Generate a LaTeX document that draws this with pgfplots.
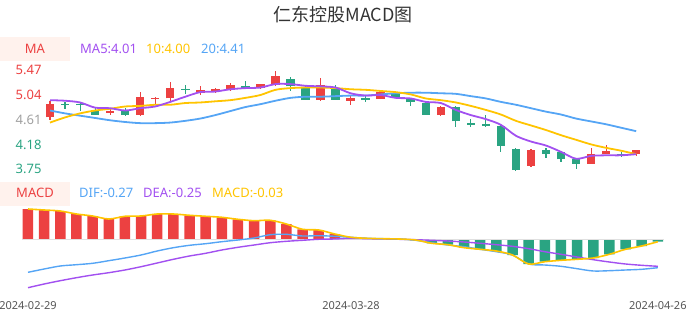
\documentclass[border=0pt]{standalone}
\usepackage{fontspec}
\setmainfont{Noto Sans}
\newfontfamily\cjk{Noto Sans CJK SC}
\usepackage{pgfplots}
\usepackage{pgfplotstable}
\pgfplotsset{compat=1.18}
\definecolor{cred}{RGB}{236,65,65}
\definecolor{cgreen}{RGB}{42,164,130}
\definecolor{cpurple}{RGB}{162,80,240}
\definecolor{cyellow}{RGB}{255,196,0}
\definecolor{cblue}{RGB}{85,165,245}
\definecolor{cgray}{RGB}{160,160,160}
\definecolor{cbox}{RGB}{255,242,237}
\definecolor{ctitle}{RGB}{51,51,51}
\definecolor{cdate}{RGB}{85,85,85}

\pgfplotstableread{
i o h l c
0 4.65 4.94 4.61 4.88
4 4.73 4.79 4.70 4.77
6 4.70 5.09 4.69 5.01
7 4.97 5.00 4.88 4.99
8 4.98 5.26 4.94 5.16
10 5.07 5.20 5.04 5.13
11 5.09 5.17 5.07 5.14
12 5.13 5.25 5.11 5.21
14 5.17 5.24 5.16 5.23
15 5.21 5.46 5.19 5.37
18 4.95 5.34 4.94 5.21
20 4.94 5.02 4.87 4.98
22 4.97 5.11 4.97 5.09
26 4.69 4.84 4.68 4.83
32 3.81 4.10 3.80 4.08
36 3.84 4.12 3.84 4.02
37 4.01 4.17 4.01 4.06
39 4.01 4.09 3.98 4.08
}\upc

\pgfplotstableread{
i o h l c
1 4.89 4.92 4.79 4.87
2 4.88 4.92 4.77 4.86
3 4.78 4.81 4.69 4.70
5 4.77 4.81 4.67 4.69
9 5.15 5.21 5.05 5.13
13 5.19 5.28 5.14 5.17
16 5.31 5.35 5.11 5.19
17 5.16 5.19 4.95 4.95
19 5.16 5.21 4.96 4.96
21 4.99 5.04 4.91 4.95
23 5.08 5.10 5.01 5.01
24 4.97 4.98 4.85 4.91
25 4.90 4.92 4.70 4.70
27 4.83 4.84 4.49 4.58
28 4.55 4.62 4.48 4.52
29 4.53 4.69 4.49 4.50
30 4.50 4.52 4.05 4.16
31 4.10 4.11 3.72 3.73
33 4.08 4.12 3.94 4.01
34 4.04 4.05 3.88 3.92
35 3.93 3.95 3.76 3.84
38 4.01 4.04 3.96 3.98
}\downc

\pgfplotstableread{
i ma5 ma10 ma20
0 4.95 4.56 4.77
1 4.94 4.65 4.72
2 4.91 4.72 4.68
3 4.82 4.77 4.64
4 4.81 4.80 4.60
5 4.77 4.84 4.57
6 4.81 4.85 4.55
7 4.84 4.87 4.55
8 4.92 4.87 4.56
9 5.01 4.90 4.59
10 5.09 4.91 4.63
11 5.10 4.93 4.69
12 5.14 4.95 4.76
13 5.16 4.99 4.83
14 5.17 5.04 4.88
15 5.23 5.13 4.94
16 5.23 5.16 4.99
17 5.20 5.17 5.01
18 5.19 5.17 5.01
19 5.17 5.16 5.02
20 5.07 5.14 5.03
21 5.03 5.13 5.03
22 5.04 5.11 5.05
23 4.99 5.09 5.07
24 4.98 5.05 5.08
25 4.92 4.98 5.08
26 4.90 4.95 5.07
27 4.78 4.91 5.06
28 4.69 4.85 5.02
29 4.62 4.78 4.98
30 4.52 4.70 4.92
31 4.33 4.59 4.87
32 4.23 4.51 4.81
33 4.16 4.43 4.75
34 4.05 4.34 4.70
35 3.93 4.26 4.63
36 3.98 4.18 4.58
37 3.99 4.12 4.53
38 3.99 4.07 4.47
39 4.01 4.01 4.41
}\ma

\pgfplotstableread{
i dif dea macd
0 -0.333 -0.487 0.300
1 -0.300 -0.450 0.290
2 -0.270 -0.417 0.280
3 -0.257 -0.387 0.250
4 -0.243 -0.360 0.230
5 -0.217 -0.337 0.200
6 -0.190 -0.310 0.227
7 -0.160 -0.277 0.230
8 -0.120 -0.240 0.250
9 -0.087 -0.203 0.250
10 -0.063 -0.170 0.237
11 -0.047 -0.143 0.227
12 -0.027 -0.110 0.217
13 -0.010 -0.083 0.197
14 0.010 -0.060 0.183
15 0.043 -0.037 0.187
16 0.047 -0.023 0.150
17 0.030 -0.013 0.097
18 0.033 -0.003 0.090
19 0.027 0.000 0.050
20 0.017 0.007 0.017
21 0.007 0.003 0.007
22 0.003 0.000 0.003
23 0.000 -0.003 0.000
24 -0.013 -0.007 -0.010
25 -0.037 -0.013 -0.043
26 -0.060 -0.020 -0.057
27 -0.077 -0.030 -0.087
28 -0.103 -0.043 -0.103
29 -0.127 -0.057 -0.120
30 -0.160 -0.073 -0.160
31 -0.250 -0.097 -0.250
32 -0.260 -0.127 -0.227
33 -0.273 -0.153 -0.213
34 -0.297 -0.180 -0.203
35 -0.320 -0.207 -0.190
36 -0.317 -0.230 -0.153
37 -0.310 -0.250 -0.103
38 -0.303 -0.263 -0.070
39 -0.287 -0.273 -0.027
}\macdt

\begin{document}
\begin{tikzpicture}
\useasboundingbox (0,0) rectangle (686bp,320bp);
% title
\node[text=ctitle, font=\cjk\fontsize{18bp}{18bp}\selectfont] at (343bp,305bp) {仁东控股MACD图};
% MA legend
\fill[cbox] (0,259bp) rectangle (70bp,283bp);
\node[text=cred, font=\fontsize{13bp}{13bp}\selectfont] at (35bp,271bp) {MA};
\node[anchor=west, inner sep=0pt, text=cpurple, font=\fontsize{13bp}{13bp}\selectfont] at (80bp,271bp) {MA5:4.01};
\node[anchor=west, inner sep=0pt, text=cyellow, font=\fontsize{13bp}{13bp}\selectfont] at (146bp,271bp) {10:4.00};
\node[anchor=west, inner sep=0pt, text=cblue, font=\fontsize{13bp}{13bp}\selectfont] at (201bp,271bp) {20:4.41};
% MACD legend
\fill[cbox] (0,114bp) rectangle (70bp,138bp);
\node[text=cred, font=\fontsize{13bp}{13bp}\selectfont] at (35bp,127bp) {MACD};
\node[anchor=west, inner sep=0pt, text=cblue, font=\fontsize{13bp}{13bp}\selectfont] at (79bp,127bp) {DIF:-0.27};
\node[anchor=west, inner sep=0pt, text=cpurple, font=\fontsize{13bp}{13bp}\selectfont] at (143bp,127bp) {DEA:-0.25};
\node[anchor=west, inner sep=0pt, text=cyellow, font=\fontsize{13bp}{13bp}\selectfont] at (212bp,127bp) {MACD:-0.03};

\begin{axis}[at={(0,140bp)}, anchor=south west, scale only axis,
  width=686bp, height=115bp,
  xmin=-3.3267, xmax=42.315, ymin=3.5602, ymax=5.5623,
  axis line style={draw=none}, xtick=\empty,
  ytick={3.75,4.18,4.61,5.04,5.47},
  yticklabels={\textcolor{cgreen}{3.75},\textcolor{cgreen}{4.18},\textcolor{cgray}{4.61},\textcolor{cred}{5.04},\textcolor{cred}{5.47}},
  major tick length=0pt,
  yticklabel style={anchor=east, inner sep=0pt, xshift=41.7bp, font=\fontsize{13bp}{13bp}\selectfont},
  clip=false]
% wicks
\addplot[draw=none, mark=none, forget plot, error bars/.cd, y dir=both, y explicit,
  error mark=none, error bar style={draw=cred, line width=1.1bp}]
  table[x=i, y=o, y error plus expr=\thisrow{h}-\thisrow{o}, y error minus expr=\thisrow{o}-\thisrow{l}] {\upc};
\addplot[draw=none, mark=none, forget plot, error bars/.cd, y dir=both, y explicit,
  error mark=none, error bar style={draw=cgreen, line width=1.1bp}]
  table[x=i, y=o, y error plus expr=\thisrow{h}-\thisrow{o}, y error minus expr=\thisrow{o}-\thisrow{l}] {\downc};
% bodies
\addplot[draw=none, mark=none, forget plot, error bars/.cd, y dir=plus, y explicit,
  error mark=none, error bar style={draw=cred, line width=8.5bp}]
  table[x=i, y=o, y error plus expr=\thisrow{c}-\thisrow{o}] {\upc};
\addplot[draw=none, mark=none, forget plot, error bars/.cd, y dir=plus, y explicit,
  error mark=none, error bar style={draw=cgreen, line width=8.5bp}]
  table[x=i, y=c, y error plus expr=\thisrow{o}-\thisrow{c}] {\downc};
% MAs
\addplot[cblue, line width=1.8bp, smooth, mark=none] table[x=i, y=ma20] {\ma};
\addplot[cyellow, line width=1.8bp, smooth, mark=none] table[x=i, y=ma10] {\ma};
\addplot[cpurple, line width=1.8bp, smooth, mark=none] table[x=i, y=ma5] {\ma};
\end{axis}

\begin{axis}[at={(0,28bp)}, anchor=south west, scale only axis,
  width=686bp, height=87bp,
  xmin=-1.7337, xmax=40.743, ymin=-0.53, ymax=0.34,
  axis line style={draw=none}, ytick=\empty,
  xtick={0,20,39}, xticklabels={2024-02-29,2024-03-28,2024-04-26},
  major tick length=0pt,
  xticklabel style={anchor=center, inner sep=0pt, yshift=-14bp, text=cdate, font=\fontsize{11bp}{11bp}\selectfont},
  clip=false]
\addplot[ybar, bar width=10.5bp, bar shift=0pt, fill=cred, draw=none] table[x=i, y expr={max(\thisrow{macd},0)}] {\macdt};
\addplot[ybar, bar width=10.5bp, bar shift=0pt, fill=cgreen, draw=none] table[x=i, y expr={min(\thisrow{macd},0)}] {\macdt};
\addplot[black!12, line width=0.8bp, mark=none] coordinates {(-0.4,0) (39.4,0)};
\addplot[cpurple, line width=1.4bp, smooth, mark=none] table[x=i, y=dea] {\macdt};
\addplot[cblue, line width=1.4bp, smooth, mark=none] table[x=i, y=dif] {\macdt};
\addplot[cyellow, line width=1.6bp, smooth, mark=none] table[x=i, y=macd] {\macdt};
\end{axis}
\end{tikzpicture}
\end{document}
